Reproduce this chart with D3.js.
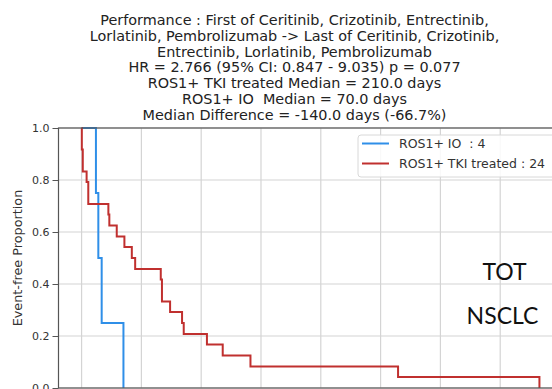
<!DOCTYPE html>
<html>
<head>
<meta charset="utf-8">
<script src="https://cdn.jsdelivr.net/npm/d3@7"></script>
<style>
  html, body { margin: 0; padding: 0; background: #fff; }
  svg { display: block; overflow: hidden; }
  text { white-space: pre; }
</style>
</head>
<body>
<div id="vis"></div>
<script>
// KM steps (days, event-free proportion)
const ioDays = [0, 60, 70, 84, 175];
const ioSurv = [1.0, 0.75, 0.5, 0.25, 0.0];

const tkiDays = [0, 1, 5, 21, 28, 112, 116, 147, 179, 210, 224, 331, 336, 370, 420, 427, 524, 590, 706, 1323, 1914];
const tkiSurv = [1.0, 0.917, 0.833, 0.792, 0.708, 0.667, 0.625, 0.583, 0.542, 0.5, 0.458, 0.417, 0.333, 0.292, 0.25, 0.208, 0.167, 0.125, 0.083, 0.042, 0.0];

const xTicks = [0, 250, 500, 750, 1000, 1250, 1500, 1750];
const yTicks = [0, 0.2, 0.4, 0.6, 0.8, 1.0];

const titleLines = [
  "Performance : First of Ceritinib, Crizotinib, Entrectinib,",
  "Lorlatinib, Pembrolizumab -> Last of Ceritinib, Crizotinib,",
  "Entrectinib, Lorlatinib, Pembrolizumab",
  "HR = 2.766 (95% CI: 0.847 - 9.035) p = 0.077",
  "ROS1+ TKI treated Median = 210.0 days",
  "ROS1+ IO  Median = 70.0 days",
  "Median Difference = -140.0 days (-66.7%)"
];

const series = [
  {name: "ROS1+ IO  : 4", days: ioDays, surv: ioSurv, color: "#2f8fe8"},
  {name: "ROS1+ TKI treated : 24", days: tkiDays, surv: tkiSurv, color: "#c0302f"}
];

const width = 552, height = 389;
const plot = {left: 58.5, right: 562.4, top: 128, bottom: 388};

const svg = d3.select("#vis").append("svg")
  .attr("width", width)
  .attr("height", height)
  .style("font-family", "'DejaVu Sans', sans-serif");

const x = d3.scaleLinear().domain([-96.5, 2010]).range([plot.left, plot.right]);
const y = d3.scaleLinear().domain([0, 1]).range([plot.bottom, plot.top]);

// grid
svg.append("g")
  .selectAll("line")
  .data(xTicks)
  .join("line")
    .attr("x1", d => x(d)).attr("x2", d => x(d))
    .attr("y1", plot.top).attr("y2", plot.bottom)
    .attr("stroke", "#d4d4d4")
    .attr("stroke-width", 1.2);

svg.append("g")
  .selectAll("line")
  .data(yTicks)
  .join("line")
    .attr("x1", plot.left).attr("x2", plot.right)
    .attr("y1", d => y(d)).attr("y2", d => y(d))
    .attr("stroke", "#d4d4d4")
    .attr("stroke-width", 1.2);

// curves
const line = d3.line()
  .x(d => x(d[0]))
  .y(d => y(d[1]))
  .curve(d3.curveStepAfter);

svg.append("g")
    .attr("fill", "none")
  .selectAll("path")
  .data(series)
  .join("path")
    .attr("d", s => line(d3.zip(s.days, s.surv)))
    .attr("stroke", s => s.color)
    .attr("stroke-width", 2);

// frame
svg.append("rect")
  .attr("x", plot.left).attr("y", plot.top)
  .attr("width", plot.right - plot.left)
  .attr("height", plot.bottom - plot.top)
  .attr("fill", "none")
  .attr("stroke", "#555")
  .attr("stroke-width", 1.2);

// y axis
const yAxis = d3.axisLeft(y)
  .tickValues(yTicks)
  .tickFormat(d3.format(".1f"))
  .tickSize(6)
  .tickPadding(3);

svg.append("g")
  .attr("transform", `translate(${plot.left},0)`)
  .call(yAxis)
  .call(g => g.select(".domain").remove())
  .call(g => g.selectAll("line").attr("stroke", "#555"))
  .call(g => g.selectAll("text")
    .attr("fill", "#333")
    .style("font-family", "'DejaVu Sans', sans-serif")
    .style("font-size", "11px"));

svg.append("text")
  .attr("transform", `translate(17,${(plot.top + plot.bottom) / 2}) rotate(-90)`)
  .attr("text-anchor", "middle")
  .attr("dominant-baseline", "central")
  .attr("fill", "#333")
  .style("font-size", "12.8px")
  .text("Event-free Proportion");

// title
svg.append("g")
  .selectAll("text")
  .data(titleLines)
  .join("text")
    .attr("x", 294.5)
    .attr("y", (d, i) => 25 + i * 15.8)
    .attr("text-anchor", "middle")
    .attr("fill", "#222")
    .style("font-size", "14.4px")
    .text(d => d);

// legend
const legend = svg.append("g").attr("transform", "translate(358,135)");
legend.append("rect")
  .attr("width", 205).attr("height", 42)
  .attr("rx", 3)
  .attr("fill", "#fff").attr("fill-opacity", 0.85)
  .attr("stroke", "#d8d8d8");

const entry = legend.selectAll("g")
  .data(series)
  .join("g")
    .attr("transform", (d, i) => `translate(0,${8.5 + i * 20})`);
entry.append("line")
  .attr("x1", 4).attr("x2", 31)
  .attr("stroke", d => d.color)
  .attr("stroke-width", 2);
entry.append("text")
  .attr("x", 41)
  .attr("dominant-baseline", "central")
  .attr("fill", "#333")
  .style("font-size", "12.5px")
  .text(d => d.name);

// annotations
svg.append("g")
  .selectAll("text")
  .data([["TOT", 504.5, 279.5], ["NSCLC", 502.5, 323.5]])
  .join("text")
    .attr("x", d => d[1])
    .attr("y", d => d[2])
    .attr("text-anchor", "middle")
    .attr("fill", "#111")
    .style("font-family", "Lato, sans-serif")
    .style("font-size", "23px")
    .text(d => d[0]);
</script>
</body>
</html>
